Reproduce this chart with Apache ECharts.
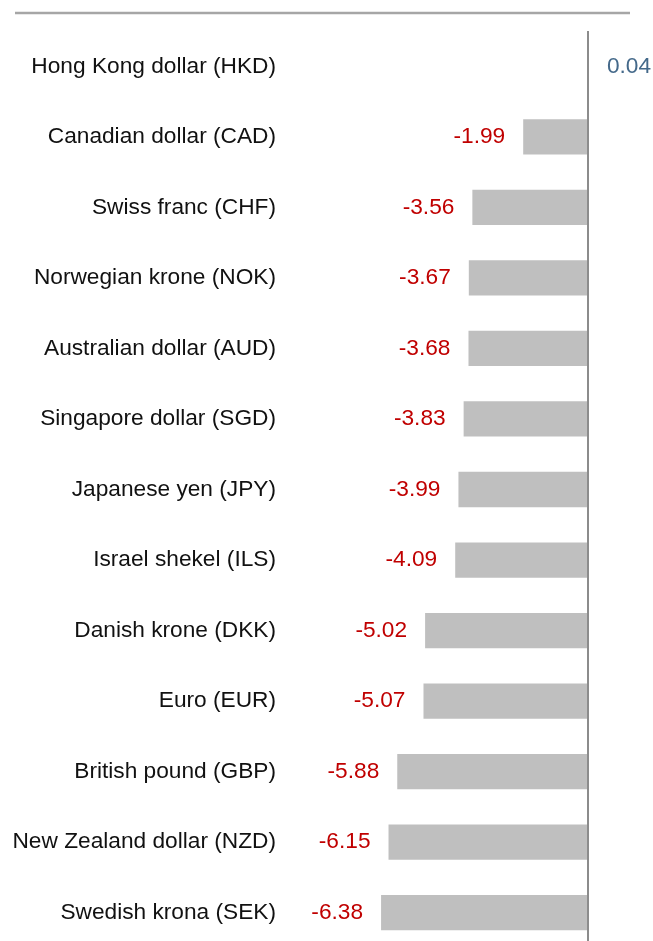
<!DOCTYPE html>
<html>
<head>
<meta charset="utf-8">
<script src="https://cdn.jsdelivr.net/npm/echarts@6/dist/echarts.min.js"></script>
<style>
  html, body { margin: 0; padding: 0; background: #fff; overflow: hidden; }
  /* 图表容器比窗口高一点，底部被裁掉（与原图一致） */
  #bar { width: 653px; height: 960px; }
</style>
</head>
<body>
<div id="bar"></div>
<script>
// 币种（从上到下）
const currencies = [
  "Hong Kong dollar (HKD)",
  "Canadian dollar (CAD)",
  "Swiss franc (CHF)",
  "Norwegian krone (NOK)",
  "Australian dollar (AUD)",
  "Singapore dollar (SGD)",
  "Japanese yen (JPY)",
  "Israel shekel (ILS)",
  "Danish krone (DKK)",
  "Euro (EUR)",
  "British pound (GBP)",
  "New Zealand dollar (NZD)",
  "Swedish krona (SEK)",
];
// 变化值
const changes = [0.04, -1.99, -3.56, -3.67, -3.68, -3.83, -3.99, -4.09, -5.02, -5.07, -5.88, -6.15, -6.38];

const myChart = echarts.init(document.querySelector("#bar"));
const option = {
  animation: false,
  textStyle: { fontFamily: "Liberation Sans, Arial, sans-serif" },
  // 顶部的灰色横线
  graphic: [
    {
      type: "line",
      shape: { x1: 15, y1: 13, x2: 630, y2: 13 },
      style: { stroke: "#a6a6a6", lineWidth: 2.5 },
    },
  ],
  grid: {
    left: 361,
    right: 33,
    top: 31,
    height: 917,
  },
  xAxis: {
    type: "value",
    min: -7,
    max: 1,
    interval: 1,
    show: false,
  },
  yAxis: {
    type: "category",
    inverse: true,
    data: currencies,
    axisLine: { show: false },
    axisTick: { show: false },
    axisLabel: {
      margin: 85,
      fontSize: 22.7,
      color: "#111",
    },
  },
  series: [
    {
      type: "bar",
      barWidth: "50%",
      data: changes.map((v) => ({
        value: v,
        label: {
          position: v >= 0 ? "right" : "left",
          color: v >= 0 ? "#44698a" : "#c00000",
        },
      })),
      itemStyle: { color: "#bfbfbf" },
      label: {
        show: true,
        distance: 18,
        fontSize: 22.7,
        formatter: (p) => p.value.toFixed(2),
      },
      // 零线
      markLine: {
        silent: true,
        symbol: "none",
        label: { show: false },
        lineStyle: { color: "#8c8c8c", width: 2, type: "solid" },
        data: [{ xAxis: 0 }],
      },
    },
  ],
};
myChart.setOption(option);
</script>
</body>
</html>
